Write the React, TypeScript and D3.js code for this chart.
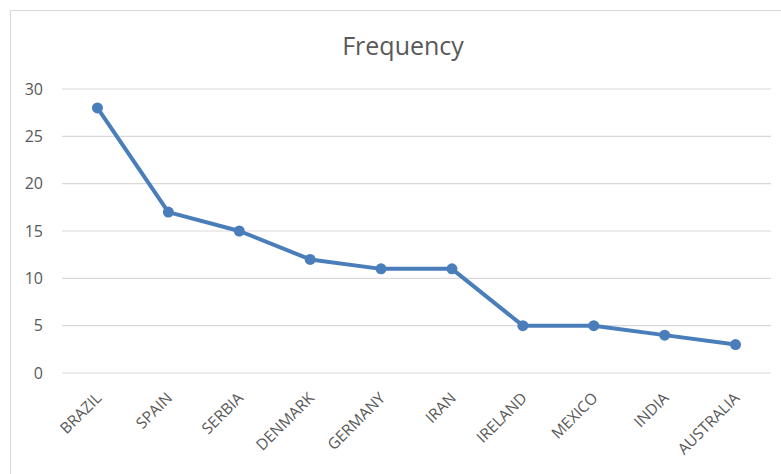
import React, { useEffect, useRef } from 'react'
import * as d3 from 'd3'

const countries = ['BRAZIL', 'SPAIN', 'SERBIA', 'DENMARK', 'GERMANY', 'IRAN', 'IRELAND', 'MEXICO', 'INDIA', 'AUSTRALIA']
const frequency = [28, 17, 15, 12, 11, 11, 5, 5, 4, 3]
const yTicks = [0, 5, 10, 15, 20, 25, 30]

export default function App() {
  const ref = useRef<SVGSVGElement>(null)

  useEffect(() => {
    if (!ref.current) return
    const svg = d3.select(ref.current)
    svg.selectAll('*').remove()

    const font = '"Open Sans", sans-serif'
    const textColor = '#595959'

    // chart frame (extends past the right/bottom edge)
    svg.append('rect')
      .attr('x', 10.5).attr('y', 10.5)
      .attr('width', 900).attr('height', 600)
      .attr('fill', '#fff')
      .attr('stroke', '#d9d9d9')

    const x = d3.scaleBand().domain(countries).range([62, 771])
    const y = d3.scaleLinear().domain([0, 30]).range([373, 89])

    // gridlines
    svg.append('g')
      .selectAll('line')
      .data(yTicks)
      .join('line')
      .attr('x1', 62).attr('x2', 771)
      .attr('y1', d => y(d)).attr('y2', d => y(d))
      .attr('stroke', '#d9d9d9')
      .attr('stroke-width', 1.2)

    // y tick labels
    svg.append('g')
      .selectAll('text')
      .data(yTicks)
      .join('text')
      .attr('x', 43)
      .attr('y', d => y(d))
      .attr('dy', '0.36em')
      .attr('text-anchor', 'end')
      .style('font-family', font)
      .style('font-size', '16px')
      .style('fill', textColor)
      .text(d => d)

    // category labels
    svg.append('g')
      .selectAll('text')
      .data(countries)
      .join('text')
      .attr('transform', d => `translate(${x(d)! + x.bandwidth() / 2 + 5}, 399) rotate(-45)`)
      .attr('text-anchor', 'end')
      .style('font-family', font)
      .style('font-size', '15.5px')
      .style('fill', textColor)
      .text(d => d)

    // title
    svg.append('text')
      .attr('x', 403)
      .attr('y', 55)
      .attr('text-anchor', 'middle')
      .style('font-family', font)
      .style('font-size', '25px')
      .style('fill', textColor)
      .text('Frequency')

    const cx = (d: string) => x(d)! + x.bandwidth() / 2
    const line = d3.line<number>()
      .x((_, i) => cx(countries[i]))
      .y(d => y(d))

    svg.append('path')
      .datum(frequency)
      .attr('d', line)
      .attr('fill', 'none')
      .attr('stroke', '#4a7ebb')
      .attr('stroke-width', 4)
      .attr('stroke-linejoin', 'round')

    svg.append('g')
      .selectAll('circle')
      .data(frequency)
      .join('circle')
      .attr('cx', (_, i) => cx(countries[i]))
      .attr('cy', d => y(d))
      .attr('r', 5.5)
      .attr('fill', '#4a7ebb')
  }, [])

  return (
    <svg ref={ref} width={781} height={474}
      style={{ position: 'absolute', left: 0, top: 0, background: '#fff' }} />
  )
}
